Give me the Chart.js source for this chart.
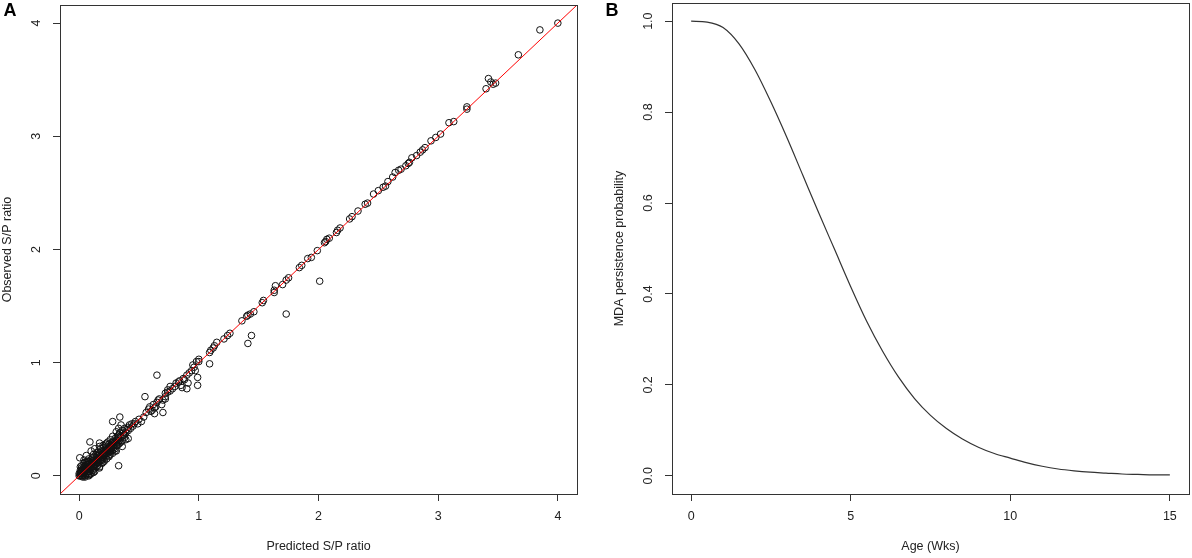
<!DOCTYPE html>
<html>
<head>
<meta charset="utf-8">
<script src="https://cdn.jsdelivr.net/npm/chart.js@4.4.1/dist/chart.umd.min.js"></script>
<style>
  html, body { margin: 0; padding: 0; background: #fff; }
  #wrap { position: relative; width: 1192px; height: 558px; overflow: hidden; }
  canvas { position: absolute; top: 0; }
  #cA { left: 0; }
  #cB { left: 596px; }
</style>
</head>
<body>
<div id="wrap">
  <canvas id="cA" width="596" height="558"></canvas>
  <canvas id="cB" width="596" height="558"></canvas>
</div>
<script>
/* ── Panel A: predicted vs observed S/P ratio ── */
const predicted = [
  4.00,3.85,3.67,3.42,3.44,3.46,3.48,3.40,3.24,3.24,
  3.13,3.09,3.02,2.98,2.94,2.89,2.87,2.85,2.82,2.78,
  2.76,2.75,2.73,2.69,2.67,2.64,2.62,2.58,2.56,2.54,
  2.50,2.46,2.41,2.39,2.33,2.28,2.26,2.18,2.16,2.15,
  2.09,2.07,2.05,2.06,1.99,1.94,1.91,1.86,1.84,2.01,
  1.75,1.73,1.70,1.64,1.63,1.63,1.73,1.53,1.54,1.46,
  1.43,1.40,1.41,1.36,1.44,1.41,1.26,1.24,1.21,1.15,
  1.13,1.12,1.10,1.09,1.09,1.00,0.98,0.95,0.96,1.00,
  0.99,0.99,0.97,0.90,0.87,0.84,0.83,0.81,0.91,0.90,
  0.85,0.86,0.76,0.74,0.72,0.55,0.67,0.66,0.65,0.62,
  0.59,0.58,0.60,0.63,0.70,0.69,0.65,0.72,0.74,0.80,
  0.92,0.94,0.63,0.61,0.70,0.72,0.88,0.78,0.76,0.64,
  0.52,0.49,0.46,0.44,0.42,0.41,0.40,0.54,0.56,0.50,
  0.47,0.45,0.43,0.41,0.39,0.38,0.34,0.35,0.33,0.41,
  0.33,0.37,0.34,0.31,0.28,0.28,0.26,0.23,0.20,0.17,
  0.17,0.09,0.005,0.15,0.12,0.19,0.21,0.10,0.13,0.06,
  0.04,0.15,0.20,0.25,0.30,0.33,0.28,0.36,0.31,0.39,
  0.28,0.26,0.20,0.17,0.00,0.01,0.02,0.02,0.03,0.03,
  0.04,0.04,0.05,0.05,0.06,0.06,0.07,0.07,0.08,0.08,
  0.09,0.09,0.10,0.10,0.11,0.11,0.12,0.12,0.13,0.13,
  0.14,0.14,0.15,0.15,0.16,0.16,0.17,0.17,0.18,0.18,
  0.19,0.19,0.20,0.20,0.21,0.21,0.22,0.22,0.23,0.23,
  0.24,0.24,0.25,0.25,0.26,0.26,0.27,0.27,0.28,0.29,
  0.30,0.30,0.31,0.32,0.32,0.33,0.34,0.34,0.35,0.36,
  0.36,0.37,0.38,0.38,0.00,0.01,0.01,0.02,0.03,0.03,
  0.04,0.05,0.05,0.06,0.06,0.07,0.07,0.08,0.08,0.09,
  0.09,0.10,0.10,0.11,0.12,0.12,0.13,0.13,0.14,0.15,
  0.15,0.16,0.17,0.18,0.19,0.20,0.21,0.22,0.23,0.24,
  0.25,0.26,0.28,0.29,0.31,0.33,0.02,0.05,0.07,0.11,
  0.05,0.08,0.10,0.12,
  0.01,0.02,0.03,0.04,0.05,0.06,0.07,0.08,0.09,0.10,
  0.11,0.12,0.13,0.14,0.15,0.16,0.17,0.18,0.19,0.20,
  0.21,0.22,0.23,0.24,0.25,0.26,0.27,0.28,0.29,0.30,
  0.31,0.32,0.33,0.35,0.02,0.04,0.06,0.08,0.03,0.01
];
const observed = [
  4.00,3.94,3.72,3.51,3.48,3.46,3.47,3.42,3.26,3.24,
  3.13,3.12,3.02,2.99,2.96,2.90,2.88,2.86,2.83,2.81,
  2.77,2.76,2.74,2.71,2.70,2.68,2.64,2.60,2.56,2.55,
  2.52,2.49,2.41,2.40,2.34,2.29,2.27,2.19,2.17,2.15,
  2.10,2.09,2.06,2.07,1.99,1.93,1.92,1.86,1.84,1.72,
  1.75,1.73,1.69,1.68,1.64,1.62,1.43,1.53,1.55,1.45,
  1.43,1.41,1.42,1.37,1.24,1.17,1.26,1.24,1.21,1.18,
  1.15,1.13,1.11,1.09,0.99,1.03,1.01,0.98,0.96,1.01,
  0.87,0.80,0.93,0.89,0.86,0.84,0.83,0.82,0.82,0.77,
  0.80,0.78,0.79,0.76,0.73,0.70,0.68,0.67,0.65,0.63,
  0.61,0.59,0.57,0.55,0.56,0.63,0.89,0.70,0.74,0.79,
  0.91,0.93,0.60,0.58,0.67,0.68,0.85,0.77,0.75,0.61,
  0.48,0.46,0.46,0.46,0.45,0.43,0.41,0.52,0.56,0.50,
  0.48,0.44,0.42,0.40,0.38,0.36,0.52,0.45,0.42,0.33,
  0.09,0.38,0.38,0.39,0.48,0.35,0.32,0.29,0.27,0.26,
  0.29,0.30,0.16,0.21,0.19,0.14,0.19,0.22,0.24,0.18,
  0.14,0.08,0.12,0.18,0.22,0.28,0.20,0.26,0.22,0.32,
  0.23,0.21,0.14,0.08,0.00,0.02,0.00,0.04,0.01,0.06,
  0.02,0.08,0.03,0.00,0.05,0.10,0.02,0.07,0.04,0.12,
  0.06,0.01,0.09,0.14,0.05,0.11,0.08,0.16,0.10,0.04,
  0.13,0.19,0.09,0.15,0.12,0.21,0.07,0.17,0.14,0.24,
  0.11,0.19,0.16,0.25,0.13,0.21,0.18,0.28,0.15,0.23,
  0.20,0.30,0.17,0.25,0.22,0.19,0.27,0.24,0.30,0.27,
  0.33,0.24,0.29,0.35,0.27,0.31,0.38,0.29,0.34,0.40,
  0.31,0.36,0.34,0.42,0.02,0.00,0.05,0.02,0.03,-0.01,
  0.05,0.06,0.09,0.02,0.07,0.04,0.10,0.08,0.01,0.09,
  0.04,0.06,0.11,0.08,0.12,0.05,0.14,0.07,0.10,0.12,
  0.18,0.15,0.13,0.18,0.16,0.20,0.18,0.22,0.20,0.24,
  0.22,0.26,0.26,0.30,0.32,0.34,0.07,0.12,0.13,0.16,
  -0.01,0.00,0.02,0.03,
  0.03,0.05,0.05,0.03,0.07,0.08,0.06,0.10,0.11,0.08,
  0.13,0.10,0.12,0.16,0.14,0.18,0.20,0.16,0.22,0.18,
  0.23,0.20,0.26,0.22,0.28,0.24,0.29,0.28,0.25,0.30,
  0.27,0.31,0.36,0.30,0.09,0.11,0.12,0.15,0.00,0.08
];
const identityEnds = [-0.5, 4.5];          // y = x reference line
const aTicks = [0, 1, 2, 3, 4];

/* ── Panel B: MDA persistence curve ── */
const ageWks = [0,0.5,1,1.5,2,2.5,3,3.5,4,4.5,5,5.5,6,6.5,7,7.5,8,8.5,9,9.5,10,10.5,11,11.5,12,12.5,13,13.5,14,14.5,15];
const mdaProb = [1.000,0.998,0.986,0.950,0.893,0.822,0.744,0.661,0.578,0.497,0.416,0.340,0.274,0.217,0.170,0.133,0.104,0.081,0.063,0.049,0.039,0.029,0.021,0.015,0.011,0.008,0.006,0.004,0.003,0.002,0.002];
const bXTicks = [0, 5, 10, 15];
const bYTicks = [0, 0.2, 0.4, 0.6, 0.8, 1.0];

const FONT = '"Liberation Sans", Arial, Helvetica, sans-serif';
const INK = '#222';

/* R-style frame, rotated y tick labels, titles, panel letter */
const rFrame = {
  id: 'rFrame',
  afterDraw(chart, args, o) {
    const { ctx, chartArea: a, scales } = chart;
    ctx.save();
    ctx.strokeStyle = '#333';
    ctx.lineWidth = 1;
    ctx.strokeRect(Math.round(a.left) + 0.5, Math.round(a.top) + 0.5,
                   Math.round(a.right - a.left), Math.round(a.bottom - a.top));
    ctx.fillStyle = INK;
    ctx.font = '12.5px ' + FONT;
    ctx.textAlign = 'center';
    ctx.textBaseline = 'middle';
    scales.y.ticks.forEach(t => {
      const y = scales.y.getPixelForValue(t.value);
      ctx.save();
      ctx.translate(a.left - 23, y);
      ctx.rotate(-Math.PI / 2);
      ctx.fillText(o.yFmt(t.value), 0, 0);
      ctx.restore();
    });
    // axis titles
    ctx.save();
    ctx.translate(a.left - 52, (a.top + a.bottom) / 2);
    ctx.rotate(-Math.PI / 2);
    ctx.fillText(o.yTitle, 0, 0);
    ctx.restore();
    ctx.fillText(o.xTitle, (a.left + a.right) / 2, a.bottom + 53);
    // panel letter
    ctx.font = 'bold 18px ' + FONT;
    ctx.fillStyle = '#000';
    ctx.fillText(o.letter, o.letterX, 11);
    ctx.restore();
  }
};

function axisX(min, max, ticks) {
  return {
    type: 'linear', min, max,
    afterBuildTicks: s => { s.ticks = ticks.map(v => ({ value: v })); },
    afterFit: s => { s.height = 64; },
    grid: { drawOnChartArea: false, drawTicks: true, tickLength: 7, color: '#333', lineWidth: 1 },
    border: { display: false },
    ticks: { color: INK, font: { family: FONT, size: 12.5 }, padding: 8, maxRotation: 0, autoSkip: false }
  };
}
function axisY(min, max, ticks, width) {
  return {
    type: 'linear', min, max,
    afterBuildTicks: s => { s.ticks = ticks.map(v => ({ value: v })); },
    afterFit: s => { s.width = width; },
    grid: { drawOnChartArea: false, drawTicks: true, tickLength: 7, color: '#333', lineWidth: 1 },
    border: { display: false },
    ticks: { display: false }
  };
}

const common = {
  responsive: false,
  animation: false,
  events: [],
  plugins: { legend: { display: false }, tooltip: { enabled: false } }
};

/* ── Chart A ── */
new Chart(document.getElementById('cA'), {
  type: 'scatter',
  data: {
    datasets: [
      {
        data: identityEnds.map(v => ({ x: v, y: v })),
        showLine: true, pointRadius: 0,
        borderColor: '#f00', borderWidth: 1, order: 0
      },
      {
        data: predicted.map((v, i) => ({ x: v, y: observed[i] })),
        pointStyle: 'circle', pointRadius: 3.3, borderWidth: 1,
        borderColor: '#111', backgroundColor: 'rgba(0,0,0,0)', order: 1
      }
    ]
  },
  options: {
    ...common,
    layout: { padding: { top: 3, right: 19, left: 0, bottom: 0 } },
    scales: { x: axisX(-0.16, 4.16, aTicks), y: axisY(-0.16, 4.16, aTicks, 60) },
    plugins: {
      ...common.plugins,
      rFrame: { yFmt: v => String(v), yTitle: 'Observed S/P ratio', xTitle: 'Predicted S/P ratio', letter: 'A', letterX: 10 }
    }
  },
  plugins: [rFrame]
});

/* ── Chart B ── */
new Chart(document.getElementById('cB'), {
  type: 'scatter',
  data: {
    datasets: [{
      data: ageWks.map((v, i) => ({ x: v, y: mdaProb[i] })),
      showLine: true, pointRadius: 0, cubicInterpolationMode: 'monotone',
      borderColor: '#333', borderWidth: 1.2
    }]
  },
  options: {
    ...common,
    layout: { padding: { top: 3, right: 3, left: 0, bottom: 0 } },
    scales: { x: axisX(-0.6, 15.6, bXTicks), y: axisY(-0.04, 1.04, bYTicks, 76) },
    plugins: {
      ...common.plugins,
      rFrame: { yFmt: v => v.toFixed(1), yTitle: 'MDA persistence probability', xTitle: 'Age (Wks)', letter: 'B', letterX: 16 }
    }
  },
  plugins: [rFrame]
});
</script>
</body>
</html>
